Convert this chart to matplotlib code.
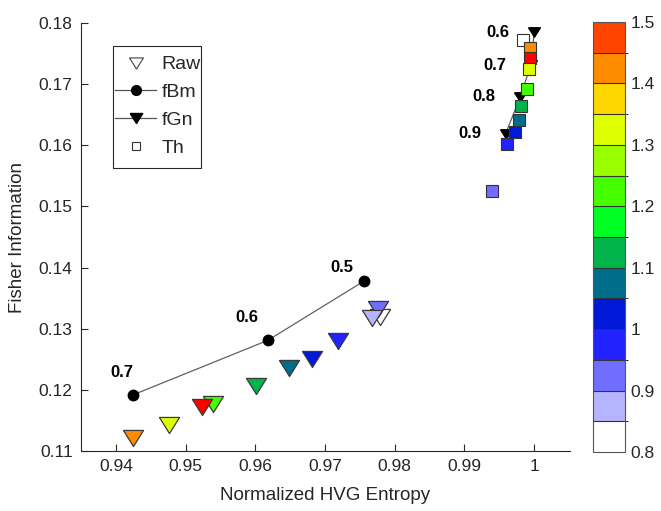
import numpy as np
import matplotlib
matplotlib.use("Agg")
import matplotlib.pyplot as plt
from matplotlib.colors import ListedColormap, BoundaryNorm
from matplotlib.cm import ScalarMappable
from matplotlib.lines import Line2D
from matplotlib.patches import Rectangle
from matplotlib.ticker import FuncFormatter

plt.rcParams['font.family'] = ['Liberation Sans', 'DejaVu Sans']
TXT = '#262626'

# ---- data -------------------------------------------------------------
# Raw series (coloured by estimated exponent)
raw_entropy = [0.9425, 0.9476, 0.9539, 0.9524, 0.9601, 0.9648, 0.9681,
               0.9718, 0.9779, 0.9776, 0.9768]
raw_fisher = [0.1122, 0.1142, 0.1177, 0.1172, 0.1206, 0.1236, 0.1251,
              0.1280, 0.1319, 0.1332, 0.1317]
raw_level = [1.42, 1.32, 1.22, 1.52, 1.12, 1.07, 1.02, 0.97, 0.82, 0.92, 0.87]

# fractional Brownian motion
fbm_hurst = ['0.5', '0.6', '0.7']
fbm_entropy = [0.9756, 0.9618, 0.9425]
fbm_fisher = [0.1378, 0.1281, 0.1192]

# fractional Gaussian noise
fgn_hurst = ['0.6', '0.7', '0.8', '0.9']
fgn_entropy = [1.0000, 0.9995, 0.9980, 0.9959]
fgn_fisher = [0.1785, 0.1731, 0.1679, 0.1619]

# Thresholded series
th_entropy = [0.9984, 0.9994, 0.9994, 0.9993, 0.9989, 0.9981, 0.9978,
              0.9972, 0.9961, 0.9940]
th_fisher = [0.1773, 0.1759, 0.1743, 0.1725, 0.1692, 0.1664, 0.1642,
             0.1621, 0.1602, 0.1525]
th_level = [0.82, 1.42, 1.52, 1.32, 1.22, 1.12, 1.07, 1.02, 0.97, 0.92]

x_ticks = [0.94, 0.95, 0.96, 0.97, 0.98, 0.99, 1.00]
y_ticks = [0.11, 0.12, 0.13, 0.14, 0.15, 0.16, 0.17, 0.18]
cbar_ticks = [0.8, 0.9, 1.0, 1.1, 1.2, 1.3, 1.4, 1.5]
legend_labels = ['Raw', 'fBm', 'fGn', 'Th']

# ---- colour scale -------------------------------------------------------
level_colors = ['#ffffff', '#b4b4ff', '#6e6eff', '#2222ff', '#0018d8',
                '#006e8a', '#00b44a', '#00ff22', '#44ff00', '#99ff00',
                '#ddff00', '#ffd700', '#ff8c00', '#ff4400']
cmap = ListedColormap(level_colors)
cmap.set_over('#ff0000')
bounds = np.linspace(0.8, 1.5, len(level_colors) + 1)
norm = BoundaryNorm(bounds, cmap.N)

# downward triangle, a little wider than tall
tri_down = [(-1, 0.8), (1, 0.8), (0, -0.8), (-1, 0.8)]

fig = plt.figure(figsize=(6.61, 5.11), dpi=100)
ax = fig.add_axes([0.1225, 0.1174, 0.7395, 0.8376])
cax = fig.add_axes([0.897, 0.1155, 0.0485, 0.8415])

# Raw triangles
for x, y, v in zip(raw_entropy, raw_fisher, raw_level):
    ax.plot(x, y, linestyle='none', marker=tri_down, markersize=14.5,
            markerfacecolor=cmap(norm(v)), markeredgecolor='#3a3a3a',
            markeredgewidth=0.9, zorder=3)

# fBm curve
ax.plot(fbm_entropy, fbm_fisher, color='#606060', linewidth=0.9,
        marker='o', markersize=7.5, markerfacecolor='black',
        markeredgecolor='black', zorder=4)
fbm_label_offsets = [(-16, 9.5), (-15, 16.5), (-8, 16)]
for x, y, lab, off in zip(fbm_entropy, fbm_fisher, fbm_hurst,
                          fbm_label_offsets):
    ax.annotate(lab, (x, y), xytext=off, textcoords='offset points',
                ha='center', va='center', fontsize=12, fontweight='bold',
                color='black')

# fGn curve (sits beneath the thresholded squares)
ax.plot(fgn_entropy, fgn_fisher, color='#606060', linewidth=0.9,
        marker=tri_down, markersize=8.5, markerfacecolor='black',
        markeredgecolor='black', zorder=4)
for x, y, lab in zip(fgn_entropy, fgn_fisher, fgn_hurst):
    ax.annotate(lab, (x, y), xytext=(-26, 0), textcoords='offset points',
                ha='center', va='center', fontsize=12, fontweight='bold',
                color='black')

# Thresholded squares
for x, y, v in zip(th_entropy, th_fisher, th_level):
    ax.plot(x, y, linestyle='none', marker='s', markersize=9.3,
            markerfacecolor=cmap(norm(v)), markeredgecolor='#333333',
            markeredgewidth=0.8, zorder=5)

ax.set_xlim(0.935, 1.0051)
ax.set_ylim(0.11, 0.18)
ax.set_xticks(x_ticks)
ax.set_yticks(y_ticks)
ax.xaxis.set_major_formatter(FuncFormatter(lambda v, p: '%g' % round(v, 4)))
ax.yaxis.set_major_formatter(FuncFormatter(lambda v, p: '%g' % round(v, 4)))
ax.tick_params(direction='in', length=5, width=0.8, labelsize=12.5,
               colors=TXT, pad=6)
for side in ('top', 'right'):
    ax.spines[side].set_visible(False)
for side in ('left', 'bottom'):
    ax.spines[side].set_color(TXT)
    ax.spines[side].set_linewidth(0.8)
ax.set_xlabel('Normalized HVG Entropy', fontsize=13.5, color=TXT, labelpad=9)
ax.set_ylabel('Fisher Information', fontsize=13.5, color=TXT, labelpad=9)

# legend: frameless entries inside a separately drawn box
handles = [
    Line2D([], [], linestyle='none', marker=tri_down, markersize=10,
           markerfacecolor='white', markeredgecolor='#555555',
           markeredgewidth=0.9),
    Line2D([], [], color='#555555', linewidth=0.9, marker='o',
           markersize=7, markerfacecolor='black', markeredgecolor='black'),
    Line2D([], [], color='#555555', linewidth=0.9, marker=tri_down,
           markersize=9, markerfacecolor='black', markeredgecolor='black'),
    Line2D([], [], linestyle='none', marker='s', markersize=6,
           markerfacecolor='white', markeredgecolor='#333333',
           markeredgewidth=0.8),
]
leg = ax.legend(handles, legend_labels, loc='upper left',
                bbox_to_anchor=(0.049, 0.946), fontsize=14, frameon=False,
                handlelength=2.15, handletextpad=0.25, borderpad=0.5,
                labelspacing=0.52, borderaxespad=0.0)
for t in leg.get_texts():
    t.set_color(TXT)
ax.add_patch(Rectangle((0.0654, 0.661), 0.18, 0.285, transform=ax.transAxes,
                       fill=True, facecolor='white', edgecolor=TXT,
                       linewidth=0.8, zorder=6))
leg.set_zorder(7)

# colour bar
cb = fig.colorbar(ScalarMappable(norm=norm, cmap=cmap), cax=cax,
                  ticks=cbar_ticks, drawedges=True)
cb.ax.yaxis.set_major_formatter(FuncFormatter(lambda v, p: '%g' % round(v, 3)))
cb.ax.tick_params(length=0, labelsize=12.5, colors=TXT, pad=4)
cb.outline.set_edgecolor('#555555')
cb.outline.set_linewidth(0.8)
cb.dividers.set_color('#333333')
cb.dividers.set_linewidth(0.8)

fig.savefig('out.png', dpi=100)
